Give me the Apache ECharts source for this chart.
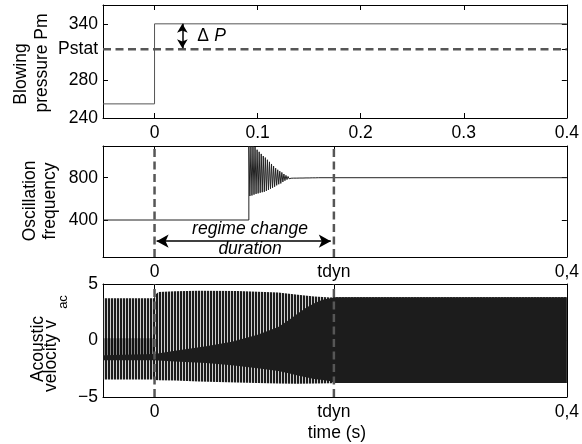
<!DOCTYPE html>
<html><head><meta charset="utf-8">
<script src="https://cdn.jsdelivr.net/npm/echarts@6/dist/echarts.min.js"></script>
<style>html,body{margin:0;padding:0;background:#fff}#c{width:582px;height:444px}</style>
</head><body><div id="c"></div><script>
// ---------- data ----------
const tStart = -0.05, tEnd = 0.4, tdyn = 0.174;
const timeTicks1 = [0, 0.1, 0.2, 0.3, 0.4];
const timeLabels1 = ['0', '0.1', '0.2', '0.3', '0.4'];
const timeTicks2 = [0, tdyn, 0.4];
const timeLabels2 = ['0', 'tdyn', '0,4'];

const pmT = [-0.05, 0, 0, 0.4];
const pmV = [255, 255, 340, 340];
const pstat = 313;
const pTicks = [240, 280, 313, 340];
const pTickLabels = ['240', '280', 'Pstat', '340'];
const deltaPT = 0.027;
const deltaPRange = [340, 314];

const freqT = [-0.05, 0.0915, 0.0915, 0.0925, 0.0935, 0.0945, 0.0955, 0.0965, 0.0975, 0.0985, 0.0995, 0.1005, 0.1015, 0.1025, 0.1035, 0.1045, 0.1055, 0.1065, 0.1075, 0.1085, 0.1095, 0.1105, 0.1115, 0.1125, 0.1135, 0.1145, 0.1155, 0.1165, 0.1175, 0.1185, 0.1195, 0.1205, 0.1215, 0.1225, 0.1235, 0.1245, 0.1255, 0.1265, 0.1275, 0.1285, 0.1295, 0.1305, 0.1315, 0.1325, 0.1335, 0.135, 0.1365, 0.138, 0.1395, 0.141, 0.1425, 0.144, 0.1455, 0.147, 0.1485, 0.15, 0.1515, 0.153, 0.1545, 0.156, 0.1575, 0.159, 0.4];
const freqV = [400, 400, 1100, 627, 1100, 632, 1100, 640, 1090, 647, 1065, 652, 1045, 658, 1025, 663, 1005, 667, 990, 675, 970, 685, 950, 695, 930, 705, 910, 715, 890, 728, 875, 738, 862, 746, 850, 760, 835, 772, 822, 782, 812, 790, 806, 795, 805, 796, 805, 796, 804, 797, 803, 797, 803, 798, 802, 798, 802, 799, 801, 799, 801, 800, 800];
const fTicks = [400, 800];
const regimeArrowF = 200;
const regimeArrowT = [0.002, 0.171];

const vTicks = [-5, 0, 5];
const vTickLabels = ['\u22125', '0', '5'];
// outer envelope of the acoustic velocity
const envT     = [-0.05, -0.0005, 0.0005, 0.004, 0.02, 0.043, 0.08, 0.12, 0.139, 0.155, 0.171, 0.174, 0.4];
const envUpper = [3.75, 3.75, 4.05, 4.29, 4.36, 4.4, 4.38, 4.25, 4.05, 3.9, 3.8, 3.82, 3.82];
const envLower = [-3.46, -3.46, -3.5, -3.52, -3.55, -3.62, -3.72, -3.8, -3.82, -3.8, -3.78, -3.76, -3.76];
// dense (solid) core
const coreT      = [-0.05, 0, 0.02, 0.05, 0.075, 0.1, 0.12, 0.13, 0.139, 0.147, 0.155, 0.163, 0.171, 0.174, 0.4];
const coreTop    = [-1.3, -1.2, -0.9, -0.5, -0.12, 0.5, 1.2, 1.8, 2.4, 2.9, 3.3, 3.6, 3.75, 3.82, 3.82];
const coreBottom = [-1.75, -1.75, -1.85, -2.0, -2.2, -2.45, -2.7, -2.9, -3.1, -3.25, -3.4, -3.5, -3.6, -3.76, -3.76];
// greyish zone before the step
const midT      = [-0.05, -0.0005];
const midTop    = [0.2, 0.2];
const midBottom = [-1.3, -1.3];

// ---------- styles ----------
const FONT = '"Liberation Sans", Arial, Helvetica, sans-serif';
const FS = 17.5;
const DASH_COLOR = '#565656';

const stripe = document.createElement('canvas');
stripe.width = 3; stripe.height = 4;
(function () {
  const c = stripe.getContext('2d');
  c.fillStyle = '#1c1c1c'; c.fillRect(0, 0, 2, 4);
  c.fillStyle = '#cfcfcf'; c.fillRect(2, 0, 1, 4);
})();

function lookup(ticks, labels) {
  return function (v) {
    for (let i = 0; i < ticks.length; i++) if (Math.abs(ticks[i] - v) < 1e-7) return labels[i];
    return '';
  };
}
const axisLineStyle = { show: true, onZero: false, lineStyle: { color: '#000', width: 1 } };

function xAxesFor(gi, ticks, labels) {
  return [
    { type: 'value', gridIndex: gi, min: tStart, max: tEnd, position: 'bottom',
      axisLine: axisLineStyle,
      axisTick: { show: true, inside: true, length: 5, customValues: ticks, lineStyle: { color: '#000' } },
      axisLabel: { show: true, customValues: ticks, formatter: lookup(ticks, labels), margin: 6,
                   color: '#000', fontSize: FS, fontFamily: FONT },
      splitLine: { show: false } },
    { type: 'value', gridIndex: gi, min: tStart, max: tEnd, position: 'top',
      axisLine: axisLineStyle,
      axisTick: { show: true, inside: true, length: 5, customValues: ticks, lineStyle: { color: '#000' } },
      axisLabel: { show: false }, splitLine: { show: false } }
  ];
}
function yAxesFor(gi, min, max, ticks, labels) {
  return [
    { type: 'value', gridIndex: gi, min: min, max: max, position: 'left',
      axisLine: axisLineStyle,
      axisTick: { show: true, inside: true, length: 5, customValues: ticks, lineStyle: { color: '#000' } },
      axisLabel: { show: true, customValues: ticks, formatter: labels ? lookup(ticks, labels) : (v => String(v)),
                   margin: 5, color: '#000', fontSize: FS, fontFamily: FONT },
      splitLine: { show: false } },
    { type: 'value', gridIndex: gi, min: min, max: max, position: 'right',
      axisLine: axisLineStyle,
      axisTick: { show: true, inside: true, length: 5, customValues: ticks, lineStyle: { color: '#000' } },
      axisLabel: { show: false }, splitLine: { show: false } }
  ];
}
function pairs(T, V) { return T.map((t, i) => [t, V[i]]); }
function vLine(xi, yi, t, y0, y1) {
  return { type: 'line', xAxisIndex: xi, yAxisIndex: yi, data: [[t, y0], [t, y1]], symbol: 'none',
           lineStyle: { color: DASH_COLOR, width: 2.5, type: [8, 4.5] }, z: 10, silent: true, animation: false };
}
function band(xi, yi, T, up, lo, fill, z) {
  return { type: 'custom', xAxisIndex: xi, yAxisIndex: yi, data: [[0, 0]], z: z, silent: true, animation: false,
    renderItem: function (params, api) {
      const pts = [];
      for (let i = 0; i < T.length; i++) pts.push(api.coord([T[i], up[i]]));
      for (let i = T.length - 1; i >= 0; i--) pts.push(api.coord([T[i], lo[i]]));
      return { type: 'polygon', shape: { points: pts }, style: { fill: fill, stroke: null } };
    } };
}
function txt(x, y, text, opts) {
  opts = opts || {};
  return { type: 'text', x: x, y: y, rotation: opts.rot || 0, silent: true,
    style: { text: text, fontSize: opts.size || FS, fontFamily: FONT, fontStyle: opts.italic ? 'italic' : 'normal',
             fill: '#000', align: 'center', verticalAlign: 'middle', textAlign: 'center', textVerticalAlign: 'middle' } };
}
const R = Math.PI / 2;

const chart = echarts.init(document.getElementById('c'), null, { renderer: 'canvas' });
chart.setOption({
  animation: false,
  backgroundColor: '#fff',
  grid: [
    { left: 103, right: 10, top: 5, height: 113 },
    { left: 103, right: 10, top: 146, height: 111 },
    { left: 103, right: 10, top: 284, height: 113 }
  ],
  xAxis: [].concat(xAxesFor(0, timeTicks1, timeLabels1), xAxesFor(1, timeTicks2, timeLabels2), xAxesFor(2, timeTicks2, timeLabels2)),
  yAxis: [].concat(yAxesFor(0, 240, 360, pTicks, pTickLabels), yAxesFor(1, 50, 1100, fTicks), yAxesFor(2, -5, 5, vTicks, vTickLabels)),
  series: [
    // panel 1
    { type: 'line', xAxisIndex: 0, yAxisIndex: 0, data: pairs(pmT, pmV), symbol: 'none',
      lineStyle: { color: '#555', width: 1 }, z: 3 },
    { type: 'line', xAxisIndex: 0, yAxisIndex: 0, data: [[tStart, pstat], [tEnd, pstat]], symbol: 'none',
      lineStyle: { color: DASH_COLOR, width: 2.5, type: [8, 4.5] }, z: 4,
      markLine: { silent: true, symbol: ['arrow', 'arrow'], symbolSize: [8, 9], label: { show: false },
        lineStyle: { color: '#000', width: 1.5, type: 'solid' },
        data: [[{ coord: [deltaPT, deltaPRange[0]] }, { coord: [deltaPT, deltaPRange[1]] }]] } },
    // panel 2
    { type: 'line', xAxisIndex: 2, yAxisIndex: 2, data: pairs(freqT, freqV), symbol: 'none',
      lineStyle: { color: '#222', width: 1 }, z: 3 },
    vLine(2, 2, 0, 50, 1100),
    vLine(2, 2, tdyn, 50, 1100),
    { type: 'line', xAxisIndex: 2, yAxisIndex: 2, data: [], symbol: 'none',
      markLine: { silent: true, symbol: ['arrow', 'arrow'], symbolSize: [10, 12], label: { show: false },
        lineStyle: { color: '#000', width: 1.5, type: 'solid' },
        data: [[{ coord: [regimeArrowT[0], regimeArrowF] }, { coord: [regimeArrowT[1], regimeArrowF] }]] } },
    // panel 3
    band(4, 4, envT, envUpper, envLower, { image: stripe, repeat: 'repeat' }, 2),
    band(4, 4, midT, midTop, midBottom, 'rgba(0,0,0,0.35)', 3),
    band(4, 4, coreT, coreTop, coreBottom, '#1c1c1c', 4),
    vLine(4, 4, 0, -5, 5),
    vLine(4, 4, tdyn, -5, 5)
  ],
  graphic: [
    txt(21, 74, 'Blowing', { rot: R }),
    txt(42, 63, 'pressure Pm', { rot: R }),
    txt(30, 201, 'Oscillation', { rot: R }),
    txt(50, 201, 'frequency', { rot: R }),
    txt(38, 349, 'Acoustic', { rot: R }),
    txt(51, 356, 'velocity v', { rot: R }),
    txt(63, 302, 'ac', { rot: R, size: 13 }),
    txt(203, 36, '\u0394', {}),
    txt(220, 36, 'P', { italic: true }),
    txt(250, 229, 'regime change', { italic: true }),
    txt(250, 249, 'duration', { italic: true }),
    txt(337, 433, 'time (s)', {})
  ]
});
</script></body></html>
